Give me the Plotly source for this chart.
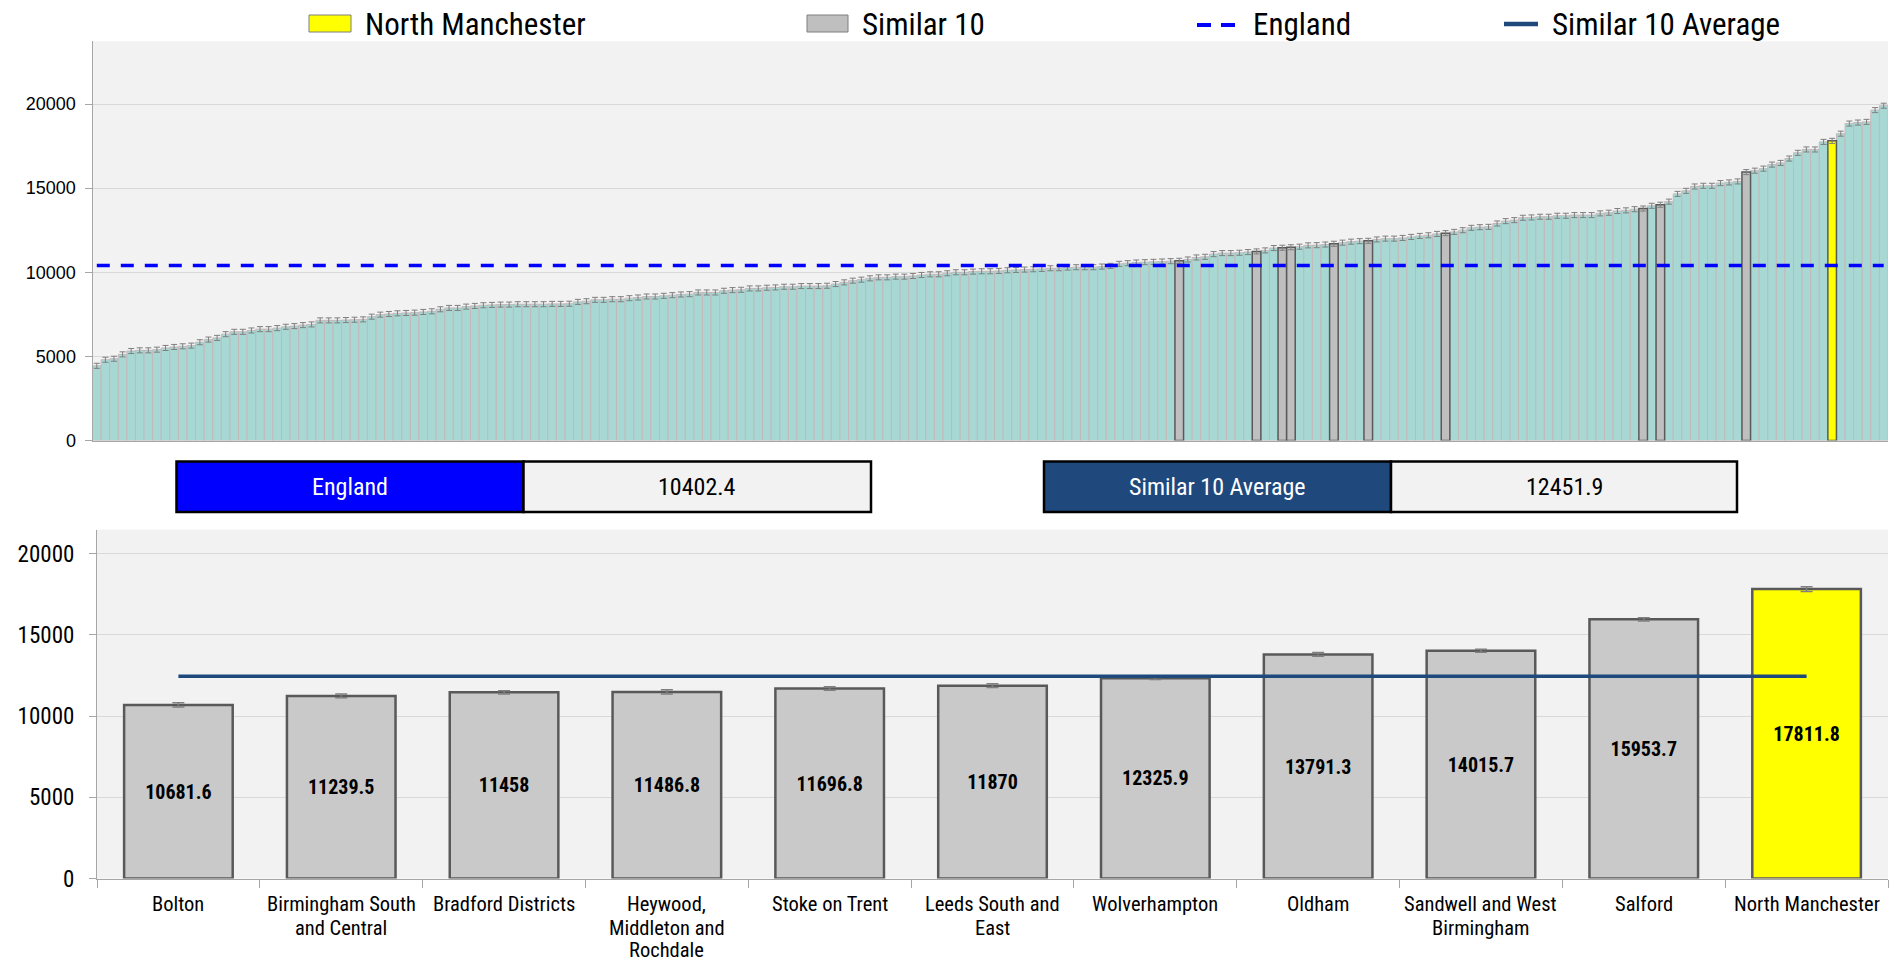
import plotly.graph_objects as go

W, H = 1895, 963

# ---------------- data ----------------
# ranked chart: all other CCGs
other_values = [
    4440, 4800, 4860, 5120, 5320, 5360, 5360, 5400, 5500, 5560,
    5600, 5640, 5840, 6000, 6100, 6320, 6460, 6460, 6540, 6620,
    6620, 6680, 6760, 6800, 6860, 6900, 7140, 7140, 7140, 7160,
    7180, 7200, 7360, 7480, 7520, 7560, 7580, 7600, 7640, 7680,
    7800, 7880, 7880, 7960, 8000, 8040, 8060, 8080, 8080, 8100,
    8100, 8100, 8100, 8120, 8120, 8130, 8240, 8280, 8360, 8360,
    8400, 8400, 8460, 8500, 8560, 8560, 8600, 8640, 8680, 8700,
    8800, 8800, 8800, 8900, 8940, 8960, 9040, 9040, 9080, 9100,
    9140, 9140, 9180, 9180, 9180, 9200, 9300, 9400, 9500, 9560,
    9640, 9700, 9700, 9740, 9740, 9780, 9840, 9880, 9880, 9940,
    10000, 10000, 10040, 10060, 10060, 10080, 10120, 10140, 10160, 10180,
    10200, 10240, 10240, 10280, 10300, 10300, 10300, 10340, 10380, 10500,
    10540, 10580, 10600, 10620, 10640, 10660,
    10760, 10880, 10920, 11080, 11140, 11140, 11160, 11200,
    11300, 11440,
    11520, 11600, 11610, 11650,
    11760, 11820, 11850,
    11950, 12000, 12000, 12040, 12100, 12160, 12200, 12280,
    12400, 12500, 12640, 12680, 12700, 12900, 13040, 13100, 13240, 13260,
    13300, 13300, 13360, 13360, 13400, 13400, 13400, 13500, 13540, 13640,
    13680, 13750,
    13950,
    14200, 14660, 14840, 15100, 15140, 15140, 15300, 15340, 15400,
    16040, 16160, 16400, 16500, 16760, 17100, 17300, 17300, 17750,
    18240, 18840, 18900, 18940, 19640, 19900,
]
ranked_ci = 150  # approximate half-width of the confidence interval

similar_names = ["Bolton", "Birmingham South and Central", "Bradford Districts",
                 "Heywood, Middleton and Rochdale", "Stoke on Trent",
                 "Leeds South and East", "Wolverhampton", "Oldham",
                 "Sandwell and West Birmingham", "Salford"]
similar_values = [10681.6, 11239.5, 11458, 11486.8, 11696.8,
                  11870, 12325.9, 13791.3, 14015.7, 15953.7]
similar_err = [130, 110, 100, 130, 110, 120, 80, 120, 90, 100]

nm_name = "North Manchester"
nm_value = 17811.8
nm_err = 150

england_value = 10402.4
similar_avg_value = 12451.9

# category labels as wrapped in the reference
bottom_label_lines = [["Bolton"], ["Birmingham South", "and Central"], ["Bradford Districts"],
                      ["Heywood,", "Middleton and", "Rochdale"], ["Stoke on Trent"],
                      ["Leeds South and", "East"], ["Wolverhampton"], ["Oldham"],
                      ["Sandwell and West", "Birmingham"], ["Salford"], ["North Manchester"]]

# ---------------- styles ----------------
TEAL = "#A7D8D4"
TEAL_EDGE = "#C4B8BA"
GREY_TOP = "#BFBFBF"
GREY_BOT = "#C9C9C9"
DARK_EDGE = "#595959"
YELLOW = "#FFFF00"
BLUE = "#0000FF"
NAVY = "#1F497D"
AXIS_GREY = "#A6A6A6"
GRID = "#D9D9D9"
NARROW = "Liberation Sans Narrow, Arial Narrow, Roboto Condensed, sans-serif"
ARIAL = "Liberation Sans, Arial, sans-serif"


def px(x):
    return x / W


def py(y):
    return 1 - y / H


# ---------------- ranking ----------------
items = [(v, "other") for v in other_values]
items += [(v, "similar") for v in similar_values]
items += [(nm_value, "nm")]
items.sort(key=lambda t: t[0])
xs = {"other": [], "similar": [], "nm": []}
ys = {"other": [], "similar": [], "nm": []}
for i, (v, g) in enumerate(items):
    xs[g].append(i)
    ys[g].append(v)
n_total = len(items)

fig = go.Figure()

top_err = dict(type="constant", value=ranked_ci, color="#7F7F7F", thickness=1, width=3)
fig.add_trace(go.Bar(x=xs["other"], y=ys["other"], width=1,
                     marker=dict(color=TEAL, line=dict(color=TEAL_EDGE, width=1)),
                     error_y=top_err, xaxis="x", yaxis="y", showlegend=False))
fig.add_trace(go.Bar(x=xs["similar"], y=ys["similar"], width=1,
                     marker=dict(color=GREY_TOP, line=dict(color=DARK_EDGE, width=1.5)),
                     error_y=top_err, xaxis="x", yaxis="y", showlegend=False))
fig.add_trace(go.Bar(x=xs["nm"], y=ys["nm"], width=1,
                     marker=dict(color=YELLOW, line=dict(color=DARK_EDGE, width=1.5)),
                     error_y=top_err, xaxis="x", yaxis="y", showlegend=False))
fig.add_trace(go.Scatter(x=[0, n_total - 1], y=[england_value, england_value],
                         mode="lines", line=dict(color=BLUE, width=3.5, dash="13px,11px"),
                         xaxis="x", yaxis="y", showlegend=False, hoverinfo="skip"))

# ---------------- bottom chart ----------------
bottom_keys = similar_names + [nm_name]
bot_values = similar_values + [nm_value]
bot_err = similar_err + [nm_err]
bot_colors = [GREY_BOT] * len(similar_values) + [YELLOW]
bot_text = ["<b>%g</b>" % v for v in bot_values]
fig.add_trace(go.Bar(x=bottom_keys, y=bot_values, width=0.667,
                     marker=dict(color=bot_colors, line=dict(color=DARK_EDGE, width=2.5)),
                     error_y=dict(type="data", array=bot_err, color="#7F7F7F", thickness=1.5, width=6),
                     text=bot_text, textposition="inside", insidetextanchor="middle",
                     textangle=0, constraintext="none",
                     textfont=dict(family=NARROW, size=20, color="black"),
                     xaxis="x2", yaxis="y2", showlegend=False))
fig.add_trace(go.Scatter(x=[bottom_keys[0], bottom_keys[-1]],
                         y=[similar_avg_value, similar_avg_value],
                         mode="lines", line=dict(color=NAVY, width=3.5),
                         xaxis="x2", yaxis="y2", showlegend=False, hoverinfo="skip"))

# ---------------- legend (manual) ----------------
shapes = []
annotations = []
leg_y = 24
shapes.append(dict(type="rect", xref="paper", yref="paper", x0=px(309), x1=px(351),
                   y0=py(32), y1=py(15), fillcolor=YELLOW, line=dict(color="#7F7F7F", width=1)))
shapes.append(dict(type="rect", xref="paper", yref="paper", x0=px(807), x1=px(848),
                   y0=py(32), y1=py(15), fillcolor=GREY_TOP, line=dict(color="#7F7F7F", width=1)))
shapes.append(dict(type="line", xref="paper", yref="paper", x0=px(1197), x1=px(1235),
                   y0=py(25), y1=py(25), line=dict(color=BLUE, width=4, dash="14px,10px")))
shapes.append(dict(type="line", xref="paper", yref="paper", x0=px(1504), x1=px(1538),
                   y0=py(24), y1=py(24), line=dict(color=NAVY, width=4.5)))
for label, x0 in [("North Manchester", 363), ("Similar 10", 860), ("England", 1251),
                  ("Similar 10 Average", 1550)]:
    annotations.append(dict(text=label, xref="paper", yref="paper", x=px(x0), y=py(leg_y),
                            xanchor="left", yanchor="middle", showarrow=False,
                            font=dict(family=NARROW, size=31, color="black")))

# ---------------- summary boxes ----------------
box_top, box_bot = 461.5, 512
for (x0, x1, x2, label, value, fill) in [
        (176.5, 523.5, 871, "England", england_value, BLUE),
        (1044, 1391, 1737, "Similar 10 Average", similar_avg_value, NAVY)]:
    shapes.append(dict(type="rect", xref="paper", yref="paper", x0=px(x0), x1=px(x1),
                       y0=py(box_bot), y1=py(box_top), fillcolor=fill,
                       line=dict(color="black", width=2.5)))
    shapes.append(dict(type="rect", xref="paper", yref="paper", x0=px(x1), x1=px(x2),
                       y0=py(box_bot), y1=py(box_top), fillcolor="#F2F2F2",
                       line=dict(color="black", width=2.5)))
    annotations.append(dict(text=label, xref="paper", yref="paper", x=px((x0 + x1) / 2),
                            y=py((box_top + box_bot) / 2), xanchor="center", yanchor="middle",
                            showarrow=False, font=dict(family=NARROW, size=24, color="white")))
    annotations.append(dict(text="%g" % value, xref="paper", yref="paper", x=px((x1 + x2) / 2),
                            y=py((box_top + box_bot) / 2), xanchor="center", yanchor="middle",
                            showarrow=False, font=dict(family=NARROW, size=24, color="black")))

# ---------------- category labels (one annotation per wrapped line) ----------------
label_line_y = [904, 927.5, 950]
for key, lines in zip(bottom_keys, bottom_label_lines):
    for j, line in enumerate(lines):
        annotations.append(dict(text=line, xref="x2", yref="paper", x=key, y=py(label_line_y[j]),
                                xanchor="center", yanchor="middle", showarrow=False,
                                font=dict(family=NARROW, size=20.5, color="black")))

fig.update_layout(
    autosize=True,
    margin=dict(l=0, r=0, t=0, b=0, autoexpand=False),
    paper_bgcolor="white",
    plot_bgcolor="#F2F2F2",
    barmode="overlay",
    shapes=shapes,
    annotations=annotations,
    showlegend=False,
    xaxis=dict(domain=[px(92.5), px(1888)], anchor="y", range=[-0.5, n_total - 0.5],
               showticklabels=False, ticks="", showgrid=False, zeroline=False,
               showline=True, linecolor=AXIS_GREY, linewidth=1),
    yaxis=dict(domain=[py(440.5), py(41.3)], anchor="x", range=[0, 23730], dtick=5000,
               tickformat="d", showgrid=True, gridcolor=GRID, gridwidth=1, zeroline=False,
               showline=True, linecolor=AXIS_GREY, linewidth=1, ticks="outside", ticklen=7,
               tickcolor=AXIS_GREY, ticklabelstandoff=5,
               tickfont=dict(family=ARIAL, size=18, color="black")),
    xaxis2=dict(domain=[px(97), px(1888)], anchor="y2", type="category",
                range=[-0.5, len(bottom_keys) - 0.5], tickson="boundaries",
                ticks="outside", ticklen=8, tickcolor=AXIS_GREY, showgrid=False,
                showline=True, linecolor=AXIS_GREY, linewidth=1, zeroline=False,
                showticklabels=False),
    yaxis2=dict(domain=[py(878.6), py(529.6)], anchor="x2", range=[0, 21470], dtick=5000,
                tickformat="d", showgrid=True, gridcolor=GRID, gridwidth=1, zeroline=False,
                showline=True, linecolor=AXIS_GREY, linewidth=1, ticks="outside", ticklen=7,
                tickcolor=AXIS_GREY, ticklabelstandoff=10,
                tickfont=dict(family=NARROW, size=23, color="black")),
)

post = (
    "document.documentElement.style.margin='0';"
    "document.documentElement.style.height='100%';"
    "document.documentElement.style.overflow='hidden';"
    "document.body.style.margin='0';"
    "document.body.style.height='100%';"
    "document.body.style.overflow='hidden';"
    "var gd=document.getElementById('{plot_id}');"
    "gd.style.width='100vw';gd.style.height='100vh';"
    "Plotly.Plots.resize(gd);"
)

fig.write_html("out.html", config={"displayModeBar": False},
               default_width="100vw", default_height="100vh",
               post_script=post)
